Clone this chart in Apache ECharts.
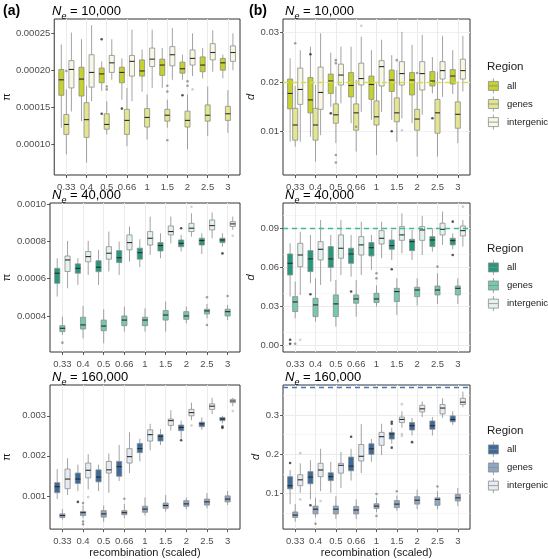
<!DOCTYPE html>
<html><head><meta charset="utf-8">
<script src="https://cdn.jsdelivr.net/npm/echarts@6/dist/echarts.min.js"></script>
<style>html,body{margin:0;padding:0;background:#fff}#c{width:548px;height:559px}</style>
</head><body><div id="c"></div>
<script>
// ---------------- data ----------------
const categories = ['0.33', '0.4', '0.5', '0.66', '1', '1.5', '2', '2.5', '3'];
const regions = ['all', 'genes', 'intergenic'];
const popSizes = ['10,000', '40,000', '160,000'];

// each entry: [lower whisker, Q1, median, Q3, upper whisker]
// pi, Ne = 10,000
const pi10k_all = [[12.2e-5,16.6e-5,18.7e-5,20.1e-5,23.5e-5],[13.1e-5,16.5e-5,18.8e-5,20.4e-5,24.2e-5],[17.2e-5,18.3e-5,19.5e-5,20.3e-5,21.2e-5],[16.0e-5,18.3e-5,19.7e-5,20.4e-5,21.6e-5],[17.1e-5,19.2e-5,19.9e-5,21.4e-5,22.8e-5],[17.6e-5,19.3e-5,20.7e-5,21.5e-5,23.0e-5],[18.7e-5,19.6e-5,20.2e-5,21.1e-5,22.1e-5],[18.9e-5,19.8e-5,20.7e-5,21.8e-5,23.0e-5],[18.9e-5,20.0e-5,21.0e-5,21.6e-5,22.1e-5]];
const pi10k_genes = [[8.6e-5,11.3e-5,12.65e-5,14.0e-5,17.4e-5],[7.5e-5,10.9e-5,13.3e-5,15.6e-5,17.9e-5],[11.3e-5,12.0e-5,12.65e-5,14.1e-5,15.8e-5],[9.7e-5,11.3e-5,13.2e-5,14.7e-5,17.6e-5],[10.6e-5,12.3e-5,13.6e-5,14.8e-5,16.7e-5],[12.2e-5,13.1e-5,13.9e-5,14.7e-5,16.0e-5],[9.3e-5,12.3e-5,13.2e-5,14.45e-5,16.7e-5],[11.1e-5,13.1e-5,13.9e-5,15.3e-5,17.8e-5],[11.5e-5,13.2e-5,14.1e-5,15.1e-5,17.3e-5]];
const pi10k_inter = [[14.4e-5,17.6e-5,20.1e-5,21.3e-5,25.1e-5],[15.8e-5,17.7e-5,19.7e-5,22.1e-5,26.1e-5],[18.7e-5,19.7e-5,21.0e-5,22.0e-5,24.2e-5],[15.8e-5,19.2e-5,21.2e-5,22.0e-5,25.5e-5],[17.6e-5,20.5e-5,21.5e-5,23.0e-5,25.5e-5],[18.7e-5,20.6e-5,22.1e-5,23.2e-5,25.7e-5],[19.2e-5,20.7e-5,21.6e-5,22.75e-5,25.0e-5],[19.8e-5,21.4e-5,22.4e-5,23.6e-5,25.4e-5],[20.0e-5,21.2e-5,22.4e-5,23.3e-5,25.0e-5]];
// outliers: [category index, region index, value]
const pi10k_out = [[2,0,24.2e-5],[2,0,14.1e-5],[3,0,14.8e-5],[6,0,16.6e-5],[0,1,19.9e-5],[2,1,17.8e-5],[2,1,17.4e-5],[5,1,17.9e-5],[5,1,17.1e-5],[5,1,10.5e-5],[6,1,18.5e-5],[6,1,17.9e-5],[6,2,17.4e-5]];

// d, Ne = 10,000
const d10k_all = [[8.0e-3,14.6e-3,17.7e-3,20.6e-3,24.8e-3],[9.0e-3,13.8e-3,16.4e-3,20.9e-3,27.1e-3],[15.0e-3,17.7e-3,20.2e-3,21.6e-3,25.9e-3],[11.7e-3,17.0e-3,19.3e-3,21.9e-3,27.1e-3],[12.4e-3,16.5e-3,19.5e-3,21.2e-3,26.4e-3],[12.4e-3,18.1e-3,20.4e-3,22.4e-3,25.4e-3],[11.7e-3,17.4e-3,20.4e-3,21.9e-3,27.5e-3],[17.7e-3,19.2e-3,20.2e-3,22.1e-3,25.0e-3],[17.6e-3,19.6e-3,21.2e-3,22.5e-3,26.4e-3]];
const d10k_genes = [[7.0e-3,8.3e-3,11.35e-3,14.7e-3,19.2e-3],[4.0e-3,8.3e-3,11.35e-3,14.7e-3,19.4e-3],[7.7e-3,11.7e-3,13.4e-3,15.6e-3,19.1e-3],[6.0e-3,10.3e-3,13.8e-3,15.6e-3,20.4e-3],[5.3e-3,11.35e-3,13.0e-3,16.2e-3,19.7e-3],[8.0e-3,12.0e-3,13.8e-3,16.8e-3,22.4e-3],[5.0e-3,10.3e-3,12.55e-3,14.5e-3,19.9e-3],[5.0e-3,9.7e-3,13.8e-3,16.5e-3,22.1e-3],[7.7e-3,10.7e-3,13.5e-3,16.0e-3,20.1e-3]];
const d10k_inter = [[8.0e-3,15.5e-3,18.5e-3,22.8e-3,26.4e-3],[9.3e-3,14.5e-3,17.9e-3,23.0e-3,29.8e-3],[15.7e-3,19.4e-3,21.4e-3,23.6e-3,27.1e-3],[14.0e-3,19.4e-3,20.7e-3,23.8e-3,29.1e-3],[14.0e-3,19.2e-3,23.1e-3,24.3e-3,28.5e-3],[12.7e-3,19.4e-3,21.7e-3,24.1e-3,30.1e-3],[13.4e-3,18.4e-3,21.7e-3,24.1e-3,29.5e-3],[17.0e-3,20.6e-3,22.3e-3,24.1e-3,29.3e-3],[18.1e-3,20.6e-3,22.3e-3,24.6e-3,29.3e-3]];
const d10k_out = [[1,0,25.6e-3],[2,0,13.7e-3],[5,0,10.1e-3],[7,0,12.7e-3],[0,1,27.8e-3],[2,1,24.4e-3],[2,1,23.8e-3],[2,1,5.3e-3],[2,1,3.8e-3],[3,1,11.0e-3],[5,1,24.4e-3],[6,1,21.8e-3],[3,2,31.3e-3],[5,2,10.3e-3]];

// pi, Ne = 40,000
const pi40k_all = [[5.04e-4,5.75e-4,6.29e-4,6.55e-4,7.09e-4],[5.66e-4,6.29e-4,6.55e-4,6.79e-4,7.09e-4],[5.66e-4,6.37e-4,6.61e-4,6.96e-4,7.54e-4],[6.2e-4,6.86e-4,7.12e-4,7.5e-4,7.98e-4],[6.61e-4,7.04e-4,7.39e-4,7.63e-4,8.11e-4],[7.09e-4,7.48e-4,7.77e-4,7.93e-4,8.43e-4],[7.45e-4,7.71e-4,7.89e-4,8.07e-4,8.34e-4],[7.32e-4,7.8e-4,8.04e-4,8.16e-4,8.43e-4],[7.71e-4,7.93e-4,8.07e-4,8.16e-4,8.43e-4]];
const pi40k_genes = [[2.98e-4,3.16e-4,3.34e-4,3.48e-4,3.96e-4],[2.8e-4,3.3e-4,3.52e-4,3.93e-4,4.54e-4],[2.54e-4,3.21e-4,3.46e-4,3.78e-4,4.36e-4],[3.16e-4,3.48e-4,3.78e-4,4.0e-4,4.5e-4],[3.16e-4,3.48e-4,3.78e-4,3.93e-4,4.41e-4],[3.16e-4,3.78e-4,4.05e-4,4.29e-4,4.77e-4],[3.6e-4,3.82e-4,4.0e-4,4.23e-4,4.5e-4],[3.87e-4,4.11e-4,4.27e-4,4.36e-4,4.64e-4],[3.78e-4,4.0e-4,4.23e-4,4.36e-4,4.59e-4]];
const pi40k_inter = [[5.48e-4,6.38e-4,7.0e-4,7.21e-4,8.02e-4],[6.2e-4,6.9e-4,7.18e-4,7.45e-4,8.02e-4],[6.38e-4,7.04e-4,7.36e-4,7.71e-4,8.52e-4],[6.91e-4,7.54e-4,7.93e-4,8.34e-4,8.79e-4],[7.27e-4,7.8e-4,8.16e-4,8.52e-4,9.32e-4],[7.89e-4,8.34e-4,8.52e-4,8.82e-4,9.32e-4],[8.25e-4,8.52e-4,8.7e-4,8.96e-4,9.5e-4],[8.16e-4,8.61e-4,8.84e-4,9.14e-4,9.54e-4],[8.61e-4,8.79e-4,8.93e-4,9.05e-4,9.32e-4]];
const pi40k_out = [[6,0,8.70e-4],[8,0,7.35e-4],[0,1,2.57e-4],[7,1,5.0e-4],[7,1,3.52e-4],[8,1,5.07e-4],[6,2,9.85e-4],[8,2,8.3e-4]];

// d, Ne = 40,000
const d40k_all = [[3.73e-2,5.4e-2,6.3e-2,7.02e-2,7.84e-2],[4.76e-2,5.66e-2,6.64e-2,7.28e-2,8.49e-2],[4.89e-2,5.99e-2,6.64e-2,7.59e-2,8.49e-2],[5.27e-2,6.3e-2,7.02e-2,7.46e-2,8.49e-2],[5.79e-2,6.87e-2,7.5e-2,7.9e-2,8.49e-2],[6.56e-2,7.38e-2,7.66e-2,8.1e-2,8.87e-2],[6.56e-2,7.28e-2,7.97e-2,8.15e-2,8.87e-2],[7.2e-2,7.59e-2,8.1e-2,8.36e-2,9.0e-2],[7.38e-2,7.72e-2,8.05e-2,8.23e-2,8.61e-2]];
const d40k_genes = [[2.06e-2,2.58e-2,3.32e-2,3.73e-2,4.89e-2],[1.8e-2,2.19e-2,3.09e-2,3.6e-2,5.14e-2],[1.42e-2,2.19e-2,3.17e-2,3.86e-2,5.01e-2],[2.19e-2,3.22e-2,3.55e-2,3.86e-2,5.01e-2],[2.96e-2,3.27e-2,3.55e-2,3.99e-2,4.6e-2],[2.32e-2,3.35e-2,4.12e-2,4.37e-2,5.14e-2],[3.04e-2,3.73e-2,4.24e-2,4.45e-2,5.14e-2],[3.17e-2,3.86e-2,4.24e-2,4.55e-2,5.53e-2],[3.17e-2,3.86e-2,4.37e-2,4.55e-2,5.14e-2]];
const d40k_inter = [[3.86e-2,6.04e-2,6.94e-2,7.84e-2,8.74e-2],[4.63e-2,6.56e-2,7.38e-2,7.97e-2,9.64e-2],[5.4e-2,6.69e-2,7.46e-2,8.49e-2,9.64e-2],[5.4e-2,6.94e-2,7.72e-2,8.36e-2,9.51e-2],[6.69e-2,7.79e-2,8.23e-2,8.82e-2,9.51e-2],[7.07e-2,8.07e-2,8.49e-2,9.13e-2,10.16e-2],[6.94e-2,8.07e-2,8.87e-2,9.13e-2,9.95e-2],[7.72e-2,8.49e-2,8.92e-2,9.39e-2,10.29e-2],[7.59e-2,8.41e-2,8.82e-2,9.18e-2,9.64e-2]];
const d40k_out = [[0,0,0.4e-2],[0,0,0.1e-2],[1,0,3.91e-2],[3,0,4.12e-2],[5,0,5.84e-2],[8,0,9.51e-2],[8,0,6.94e-2],[0,1,0.1e-2],[4,1,5.53e-2],[4,1,5.14e-2],[7,1,6.04e-2],[0,2,0.4e-2],[8,2,10.67e-2]];

// pi, Ne = 160,000
const pi160k_all = [[0.92e-3,1.08e-3,1.23e-3,1.33e-3,1.67e-3],[1.12e-3,1.31e-3,1.42e-3,1.57e-3,1.78e-3],[1.12e-3,1.35e-3,1.47e-3,1.65e-3,1.78e-3],[1.37e-3,1.49e-3,1.73e-3,1.86e-3,2.27e-3],[1.86e-3,2.08e-3,2.18e-3,2.31e-3,2.43e-3],[2.27e-3,2.37e-3,2.49e-3,2.53e-3,2.67e-3],[2.43e-3,2.63e-3,2.71e-3,2.77e-3,2.88e-3],[2.65e-3,2.73e-3,2.8e-3,2.84e-3,2.96e-3],[2.81e-3,2.88e-3,2.92e-3,2.96e-3,3.0e-3]];
const pi160k_genes = [[0.41e-3,0.46e-3,0.51e-3,0.55e-3,0.67e-3],[0.44e-3,0.51e-3,0.58e-3,0.61e-3,0.76e-3],[0.35e-3,0.47e-3,0.55e-3,0.63e-3,0.76e-3],[0.44e-3,0.53e-3,0.58e-3,0.63e-3,0.8e-3],[0.51e-3,0.59e-3,0.67e-3,0.74e-3,0.96e-3],[0.61e-3,0.69e-3,0.76e-3,0.82e-3,1.02e-3],[0.67e-3,0.74e-3,0.8e-3,0.88e-3,0.96e-3],[0.69e-3,0.77e-3,0.85e-3,0.92e-3,1.07e-3],[0.77e-3,0.85e-3,0.92e-3,1.0e-3,1.12e-3]];
const pi160k_inter = [[1.02e-3,1.18e-3,1.42e-3,1.67e-3,1.94e-3],[1.16e-3,1.45e-3,1.64e-3,1.82e-3,2.04e-3],[1.08e-3,1.57e-3,1.65e-3,1.86e-3,2.06e-3],[1.57e-3,1.82e-3,1.98e-3,2.18e-3,2.59e-3],[2.14e-3,2.37e-3,2.53e-3,2.65e-3,2.8e-3],[2.63e-3,2.76e-3,2.88e-3,2.92e-3,3.14e-3],[2.89e-3,3.0e-3,3.08e-3,3.16e-3,3.33e-3],[3.04e-3,3.16e-3,3.24e-3,3.3e-3,3.45e-3],[3.24e-3,3.33e-3,3.37e-3,3.41e-3,3.45e-3]];
const pi160k_out = [[1,0,0.85e-3],[6,0,2.39e-3],[8,0,2.73e-3],[8,0,2.70e-3],[1,1,0.82e-3],[1,1,0.36e-3],[1,1,0.29e-3],[3,1,0.93e-3],[1,2,0.97e-3],[6,2,2.76e-3],[8,2,3.12e-3]];

// d, Ne = 160,000
const d160k_all = [[0.073,0.112,0.12,0.143,0.16],[0.085,0.125,0.142,0.156,0.185],[0.102,0.133,0.143,0.153,0.181],[0.133,0.158,0.17,0.193,0.214],[0.181,0.2,0.214,0.227,0.239],[0.227,0.239,0.252,0.256,0.268],[0.248,0.262,0.273,0.281,0.293],[0.248,0.264,0.273,0.285,0.295],[0.275,0.283,0.289,0.298,0.31]];
const d160k_genes = [[0.028,0.039,0.045,0.053,0.073],[0.039,0.048,0.06,0.068,0.089],[0.035,0.048,0.06,0.068,0.093],[0.035,0.048,0.058,0.067,0.085],[0.052,0.062,0.068,0.074,0.089],[0.056,0.064,0.073,0.082,0.095],[0.06,0.073,0.083,0.092,0.11],[0.06,0.07,0.085,0.089,0.106],[0.068,0.081,0.089,0.098,0.114]];
const d160k_inter = [[0.102,0.12,0.135,0.148,0.177],[0.106,0.143,0.16,0.177,0.214],[0.114,0.152,0.172,0.177,0.206],[0.152,0.183,0.195,0.225,0.277],[0.198,0.223,0.245,0.256,0.278],[0.268,0.281,0.289,0.295,0.31],[0.295,0.308,0.316,0.325,0.335],[0.293,0.303,0.318,0.327,0.343],[0.32,0.327,0.333,0.343,0.36]];
const d160k_out = [[0,0,0.178],[1,0,0.07],[3,0,0.245],[5,0,0.283],[5,0,0.278],[5,0,0.217],[6,0,0.231],[1,1,0.023],[4,1,0.099],[4,1,0.043],[5,1,0.106],[7,1,0.118],[0,2,0.203],[0,2,0.085],[1,2,0.081],[5,2,0.328],[5,2,0.252],[5,2,0.247]];

// expected diversity (dashed lines)
const piExpected = [0.00023, 0.00092, 0.00368];
const dExpected = [0.023, 0.0907, 0.367];

// tick labels
const piTicks = [[0.0001, 0.00015, 0.0002, 0.00025], [0.0004, 0.0006, 0.0008, 0.0010], [0.001, 0.002, 0.003]];
const piMinor = [[0.000075, 0.000125, 0.000175, 0.000225], [0.0003, 0.0005, 0.0007, 0.0009], [0.0005, 0.0015, 0.0025, 0.0035]];
const piDecimals = [5, 4, 3];
const dTicks = [[0.01, 0.02, 0.03], [0.00, 0.03, 0.06, 0.09], [0.1, 0.2, 0.3]];
const dMinor = [[0.005, 0.015, 0.025], [0.015, 0.045, 0.075, 0.105], [0.05, 0.15, 0.25, 0.35]];
const dDecimals = [2, 2, 1];

// ---------------- layout / style ----------------
const FONT = "'Liberation Sans', Arial, Helvetica, sans-serif";
const BOX_W = 0.25;
const OFFSETS = [-0.25, 0, 0.25];
const ROWS = [{ top: 19, height: 156 }, { top: 203, height: 149 }, { top: 385, height: 147 }];
const COLS = [{ left: 50, width: 190, nameGap: 38, yName: 'π', italic: false },
              { left: 283, width: 187, nameGap: 20, yName: 'd', italic: true }];
const PIRANGE = [[0.000058, 0.0002694], [0.000207, 0.001005], [0.00017, 0.00377]];
const DRANGE = [[0.00129, 0.03268], [-0.0054, 0.1095], [0.0093, 0.3768]];
const PALETTES = [
  { fill: ['#C5D12C', '#E3E68F', '#F7F7E4'], ref: '#D5E04A' },
  { fill: ['#24997E', '#76C8B1', '#E4F2EE'], ref: '#3DBA96' },
  { fill: ['#3A6B9C', '#8DA7C6', '#E4EBF2'], ref: '#3D7CC0' }
];
const OUT_COL = ['#2b2b2b', '#8a8a8a', '#c4c4c4'];
const STROKE = '#8c8c8c';
const ICON = 'path://M5,0L5,3M0,3L10,3L10,12L0,12ZM0,7.5L10,7.5M5,12L5,15';
const LEGEND_TOP = [78, 259.5, 441.5];
const REGION_TOP = [61, 243, 425];

const piData = [[pi10k_all, pi10k_genes, pi10k_inter], [pi40k_all, pi40k_genes, pi40k_inter], [pi160k_all, pi160k_genes, pi160k_inter]];
const piOut = [pi10k_out, pi40k_out, pi160k_out];
const dData = [[d10k_all, d10k_genes, d10k_inter], [d40k_all, d40k_genes, d40k_inter], [d160k_all, d160k_genes, d160k_inter]];
const dOut = [d10k_out, d40k_out, d160k_out];

const catPos = categories.map((c, i) => i + 1);

function makeRender(fill) {
  return function (params, api) {
    const x = api.value(0);
    const lo = api.coord([x, api.value(1)]);
    const q1 = api.coord([x, api.value(2)]);
    const md = api.coord([x, api.value(3)]);
    const q3 = api.coord([x, api.value(4)]);
    const hi = api.coord([x, api.value(5)]);
    const w = api.size([BOX_W, 0])[0];
    const cx = lo[0];
    return {
      type: 'group', children: [
        { type: 'line', shape: { x1: cx, y1: hi[1], x2: cx, y2: q3[1] }, style: { stroke: STROKE, lineWidth: 0.8 } },
        { type: 'line', shape: { x1: cx, y1: q1[1], x2: cx, y2: lo[1] }, style: { stroke: STROKE, lineWidth: 0.8 } },
        { type: 'rect', shape: { x: cx - w / 2, y: q3[1], width: w, height: q1[1] - q3[1] }, style: { fill: fill, stroke: STROKE, lineWidth: 0.8 } },
        { type: 'line', shape: { x1: cx - w / 2, y1: md[1], x2: cx + w / 2, y2: md[1] }, style: { stroke: '#2a2a2a', lineWidth: 1.1 } }
      ]
    };
  };
}

const option = {
  animation: false, backgroundColor: '#fff',
  textStyle: { fontFamily: FONT },
  grid: [], xAxis: [], yAxis: [], series: [], title: [], legend: []
};

option.title.push({ text: '(a)', left: 3, top: 4, padding: 0, textStyle: { fontSize: 14, fontWeight: 'bold', color: '#000', fontFamily: FONT } });
option.title.push({ text: '(b)', left: 249, top: 4, padding: 0, textStyle: { fontSize: 14, fontWeight: 'bold', color: '#000', fontFamily: FONT } });

let gi = 0;
for (let r = 0; r < 3; r++) {
  for (let c = 0; c < 2; c++) {
    const col = COLS[c], row = ROWS[r];
    const data = c === 0 ? piData[r] : dData[r];
    const outs = c === 0 ? piOut[r] : dOut[r];
    const ticks = c === 0 ? piTicks[r] : dTicks[r];
    const minor = c === 0 ? piMinor[r] : dMinor[r];
    const dec = c === 0 ? piDecimals[r] : dDecimals[r];
    const range = c === 0 ? PIRANGE[r] : DRANGE[r];
    const ref = c === 0 ? piExpected[r] : dExpected[r];
    const pal = PALETTES[r];

    option.grid.push({ left: col.left, top: row.top, width: col.width, height: row.height, show: true, borderColor: '#333', borderWidth: 1, backgroundColor: '#fff', containLabel: false });
    option.xAxis.push({
      type: 'value', gridIndex: gi, min: 0.4, max: 9.6,
      axisLine: { show: false },
      axisTick: { show: true, customValues: catPos, length: 3, lineStyle: { color: '#333', width: 0.8 } },
      axisLabel: { customValues: catPos, formatter: v => categories[Math.round(v) - 1], fontSize: 9.5, color: '#4D4D4D', margin: 7, fontFamily: FONT },
      splitLine: { show: false },
      name: r === 2 ? 'recombination (scaled)' : '', nameLocation: 'middle', nameGap: 16,
      nameTextStyle: { fontSize: 11, color: '#1a1a1a', fontFamily: FONT }
    });
    option.yAxis.push({
      type: 'value', gridIndex: gi, min: range[0], max: range[1],
      axisLine: { show: false },
      axisTick: { show: true, customValues: ticks, length: 3, lineStyle: { color: '#333', width: 0.8 } },
      axisLabel: { customValues: ticks, formatter: v => v.toFixed(dec), fontSize: 9.5, color: '#4D4D4D', margin: 4, fontFamily: FONT },
      splitLine: { show: false },
      name: col.yName, nameLocation: 'middle', nameGap: col.nameGap,
      nameTextStyle: { fontSize: 11, color: '#1a1a1a', fontStyle: col.italic ? 'italic' : 'normal', fontFamily: FONT }
    });

    // grid lines
    const gl = [];
    ticks.forEach(v => gl.push({ yAxis: v, lineStyle: { color: '#EBEBEB', width: 1, type: 'solid' } }));
    minor.forEach(v => gl.push({ yAxis: v, lineStyle: { color: '#F2F2F2', width: 0.6, type: 'solid' } }));
    catPos.forEach(v => gl.push({ xAxis: v, lineStyle: { color: '#EBEBEB', width: 1, type: 'solid' } }));
    option.series.push({
      type: 'line', xAxisIndex: gi, yAxisIndex: gi, data: [[0.4, range[0]]], showSymbol: false, symbolSize: 0,
      lineStyle: { opacity: 0 }, silent: true, z: 1,
      markLine: { silent: true, symbol: ['none', 'none'], label: { show: false }, z: 1, animation: false, data: gl }
    });

    // boxes
    for (let k = 0; k < 3; k++) {
      option.series.push({
        type: 'custom', name: regions[k] + '#' + r, xAxisIndex: gi, yAxisIndex: gi, z: 2,
        itemStyle: { color: pal.fill[k], borderColor: STROKE },
        renderItem: makeRender(pal.fill[k]),
        dimensions: ['x', 'lo', 'q1', 'med', 'q3', 'hi'],
        encode: { x: 0, y: [1, 2, 3, 4, 5] },
        data: data[k].map((b, i) => [catPos[i] + OFFSETS[k], b[0], b[1], b[2], b[3], b[4]])
      });
    }
    // outliers
    for (let k = 0; k < 3; k++) {
      option.series.push({
        type: 'scatter', xAxisIndex: gi, yAxisIndex: gi, z: 3, symbolSize: 2.6, silent: true,
        itemStyle: { color: OUT_COL[k] },
        data: outs.filter(o => o[1] === k).map(o => [catPos[o[0]] + OFFSETS[k], o[2]])
      });
    }
    // expected value (dashed)
    option.series.push({
      type: 'line', xAxisIndex: gi, yAxisIndex: gi, data: [[0.4, range[0]]], showSymbol: false, symbolSize: 0,
      lineStyle: { opacity: 0 }, silent: true, z: 4,
      markLine: { silent: true, symbol: ['none', 'none'], label: { show: false }, z: 4, animation: false,
        data: [{ yAxis: ref, lineStyle: { color: pal.ref, width: 1.3, type: [5, 4] } }] }
    });

    // panel title
    option.title.push({
      text: '{n|N}{s|e}{t| = ' + popSizes[r] + '}', left: col.left + 2, top: row.top - 16, padding: 0,
      textStyle: { fontWeight: 'normal', rich: {
        n: { fontSize: 13, fontStyle: 'italic', fontWeight: 'normal', color: '#000', fontFamily: FONT, lineHeight: 15, verticalAlign: 'bottom' },
        s: { fontSize: 9, fontStyle: 'italic', fontWeight: 'normal', color: '#000', fontFamily: FONT, lineHeight: 11, verticalAlign: 'bottom', padding: [0, 0, -3, 0] },
        t: { fontSize: 13, fontWeight: 'normal', color: '#000', fontFamily: FONT, lineHeight: 15, verticalAlign: 'bottom' }
      } }
    });
    gi++;
  }
  // legend
  option.title.push({ text: 'Region', left: 487, top: REGION_TOP[r], padding: 0, textStyle: { fontSize: 11.5, fontWeight: 'normal', color: '#1a1a1a', fontFamily: FONT } });
  option.legend.push({
    orient: 'vertical', left: 488, top: LEGEND_TOP[r], itemWidth: 11, itemHeight: 15, itemGap: 2.3,
    selectedMode: false, padding: 0,
    formatter: n => n.split('#')[0],
    textStyle: { fontSize: 9.5, color: '#1a1a1a', fontFamily: FONT, padding: [0, 0, 0, 3] },
    data: regions.map((name, k) => ({ name: name + '#' + r, icon: ICON, itemStyle: { color: PALETTES[r].fill[k], borderColor: STROKE, borderWidth: 0.8 } }))
  });
}

const chart = echarts.init(document.getElementById('c'), null, { renderer: 'canvas' });
chart.setOption(option);
</script>
</body></html>
